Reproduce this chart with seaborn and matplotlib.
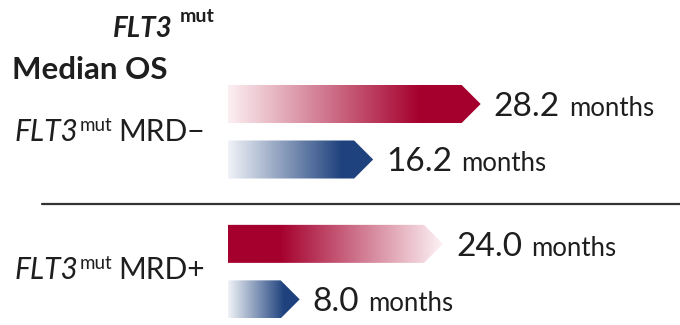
import numpy as np
import pandas as pd
import matplotlib
matplotlib.use("Agg")
import matplotlib.pyplot as plt
import seaborn as sns
from matplotlib.patches import Polygon
from matplotlib.lines import Line2D
from matplotlib.colors import to_rgb

# ---- data -------------------------------------------------------------
groups = ["FLT3mut MRD−", "FLT3mut MRD−", "FLT3mut MRD+", "FLT3mut MRD+"]
arms = ["arm A", "arm B", "arm A", "arm B"]
median_os = [28.2, 16.2, 24.0, 8.0]
value_labels = ["28.2", "16.2", "24.0", "8.0"]
unit_label = "months"
row_pos = [0.0, 1.0, 2.52, 3.52]

# ---- styling ----------------------------------------------------------
W, H = 680, 325
RED = "#a5002d"
BLUE = "#1f427e"
PALE_RED = "#fcf0f2"
PALE_BLUE = "#f0f3f7"
# colour stops along each arrow (fraction of length, colour)
ramps = [
    [(0.0, PALE_RED), (0.76, RED), (1.0, RED)],
    [(0.0, PALE_BLUE), (0.78, BLUE), (1.0, BLUE)],
    [(0.0, RED), (0.24, RED), (1.0, "#fdf4f6")],
    [(0.0, PALE_BLUE), (0.78, BLUE), (1.0, BLUE)],
]
PX_PER_MONTH = 8.96
X0_PX = 228
ROW_PX = 55.5
ROW0_PX = 104
TIP_PX = 19
TEXT = "#1e1e1e"

sns.set_theme(style="white")
plt.rcParams["font.family"] = ["Lato", "DejaVu Sans"]

fig = plt.figure(figsize=(W / 100, H / 100), dpi=100)
ax = fig.add_axes([X0_PX / W, 0, (W - X0_PX) / W, 1])

df = pd.DataFrame({"group": groups, "arm": arms, "months": median_os, "pos": row_pos})
sns.barplot(data=df, x="months", y="pos", orient="h", native_scale=True,
            width=0.685, errorbar=None, ax=ax, color="k")

xmax = (W - X0_PX) / PX_PER_MONTH
ymin = -ROW0_PX / ROW_PX
ymax = (H - ROW0_PX) / ROW_PX
tip = TIP_PX / PX_PER_MONTH


def ramp_image(stops, n=400):
    f = np.linspace(0, 1, n)
    xs = [s[0] for s in stops]
    cols = np.array([to_rgb(s[1]) for s in stops])
    img = np.stack([np.interp(f, xs, cols[:, c]) for c in range(3)], axis=-1)
    return img[np.newaxis, :, :]


bars = list(ax.patches)
for p in bars:
    yc = p.get_y() + p.get_height() / 2
    i = int(np.argmin([abs(yc - r) for r in row_pos]))
    x0, x1 = p.get_x(), p.get_x() + p.get_width()
    y0, y1 = p.get_y(), p.get_y() + p.get_height()
    shape = Polygon([(x0, y0), (x1 - tip, y0), (x1, (y0 + y1) / 2),
                     (x1 - tip, y1), (x0, y1)], closed=True,
                    facecolor="none", edgecolor="none", transform=ax.transData)
    ax.add_patch(shape)
    im = ax.imshow(ramp_image(ramps[i]), extent=(x0, x1, y1, y0), aspect="auto",
                   interpolation="bilinear", zorder=2)
    im.set_clip_path(shape)
    p.set_visible(False)

    num = ax.annotate(value_labels[i], xy=(median_os[i], row_pos[i]),
                      xytext=(13, -12), textcoords="offset pixels",
                      ha="left", va="baseline", fontsize=24, color=TEXT)
    ax.annotate(unit_label, xy=(1, row_pos[i]), xycoords=(num, "data"),
                xytext=(9, -12), textcoords="offset pixels",
                ha="left", va="baseline", fontsize=18.5, color=TEXT)

ax.set_xlim(0, xmax)
ax.set_ylim(ymax, ymin)
ax.axis("off")

# divider between the two MRD groups
fig.add_artist(Line2D([42 / W, 1], [1 - 203.5 / H] * 2, transform=fig.transFigure,
                      color="#333333", lw=1.6))

renderer = fig.canvas.get_renderer()


def text_run(x_px, base_px, pieces):
    for s, kw, dy, gap in pieces:
        t = fig.text(x_px / W, 1 - (base_px - dy) / H, s, ha="left",
                     va="baseline", color=TEXT, **kw)
        bb = t.get_window_extent(renderer)
        x_px = bb.x1 + gap


text_run(113, 37, [
    ("FLT3", dict(fontsize=20, fontweight="bold", fontstyle="italic"), 0, 7),
    ("mut", dict(fontsize=14, fontweight="bold"), 15, 0),
])
fig.text(12 / W, 1 - 79 / H, "Median OS", ha="left", va="baseline",
         fontsize=22.5, fontweight="bold", color=TEXT)

for label_base, sign in [(141, "−"), (279, "+")]:
    text_run(15, label_base, [
        ("FLT3", dict(fontsize=21.5, fontstyle="italic"), 0, 1),
        ("mut", dict(fontsize=13.5), 10, 6),
        ("MRD" + sign, dict(fontsize=21.5), 0, 0),
    ])

fig.savefig("out.png", dpi=100, facecolor="white")
